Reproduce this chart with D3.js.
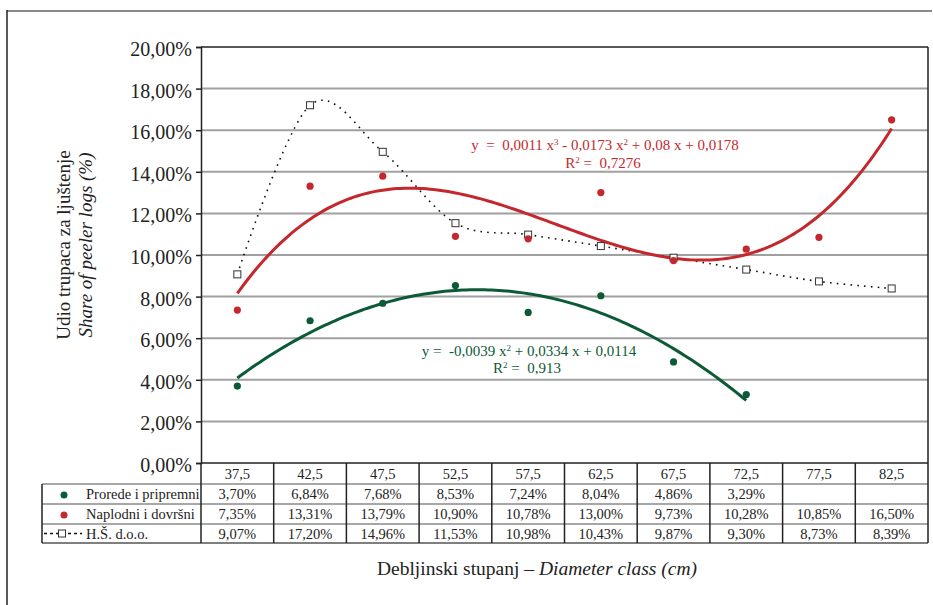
<!DOCTYPE html>
<html><head><meta charset="utf-8">
<script src="https://cdn.jsdelivr.net/npm/d3@7/dist/d3.min.js"></script>
<style>body{margin:0;background:#fff}svg{display:block}
text{font-family:"Liberation Serif","Tinos","Times New Roman","DejaVu Serif",serif;}</style>
</head><body>
<svg id="c" width="933" height="605"></svg>
<script>
const categories = ["37,5","42,5","47,5","52,5","57,5","62,5","67,5","72,5","77,5","82,5"];
const prorede  = [3.70, 6.84, 7.68, 8.53, 7.24, 8.04, 4.86, 3.29, null, null];
const naplodni = [7.35, 13.31, 13.79, 10.90, 10.78, 13.00, 9.73, 10.28, 10.85, 16.50];
const hs       = [9.07, 17.20, 14.96, 11.53, 10.98, 10.43, 9.87, 9.30, 8.73, 8.39];
const seriesNames = ["Prorede i pripremni", "Naplodni i dovršni", "H.Š. d.o.o."];
const yTicks = [0,2,4,6,8,10,12,14,16,18,20];
const yTickLabels = ["0,00%","2,00%","4,00%","6,00%","8,00%","10,00%","12,00%","14,00%","16,00%","18,00%","20,00%"];

const svg = d3.select("#c");
const serif = "Liberation Serif, Tinos, Times New Roman, DejaVu Serif, serif";
const GREEN = "#0d5a36", RED = "#c4282c";

const L = 201, R = 928, T = 47, B = 463;
const x = d3.scaleBand().domain(categories).range([L, R]).padding(0);
const bw = x.bandwidth();
const cx = c => x(c) + bw/2;
const y = d3.scaleLinear().domain([0, 20]).range([B, T]);
const xi = d3.scaleLinear().domain([1, categories.length]).range([cx(categories[0]), cx(categories[categories.length-1])]);

// outer frame
svg.append("line").attr("x1",7).attr("x2",932).attr("y1",11).attr("y2",11).attr("stroke","#8a8a8a").attr("stroke-width",2);
svg.append("line").attr("x1",7).attr("x2",7).attr("y1",10).attr("y2",605).attr("stroke","#222").attr("stroke-width",1.5);

// grid
svg.append("g").selectAll("line").data(yTicks.filter(t => t>0 && t<20)).join("line")
  .attr("x1",L).attr("x2",R).attr("y1",d=>y(d)).attr("y2",d=>y(d))
  .attr("stroke","#a0a0a0").attr("stroke-width",2);
svg.append("line").attr("x1",L).attr("x2",R).attr("y1",y(20)).attr("y2",y(20)).attr("stroke","#222").attr("stroke-width",1.5);
svg.append("line").attr("x1",R).attr("x2",R).attr("y1",T).attr("y2",B).attr("stroke","#222").attr("stroke-width",1.5);

// y axis
const yAxis = svg.append("g").attr("transform",`translate(${L},0)`)
  .call(d3.axisLeft(y).tickValues(yTicks).tickSize(5).tickPadding(4).tickFormat((d,i)=>yTickLabels[i]));
yAxis.attr("font-family", null);
yAxis.select(".domain").attr("stroke","#222").attr("stroke-width",1.5);
yAxis.selectAll(".tick line").attr("stroke","#222").attr("stroke-width",1.5);
yAxis.selectAll(".tick text").attr("font-family",serif).attr("font-size",20).attr("fill","#222").attr("dy","0.42em");

// y title
const yt = svg.append("text").attr("transform","translate(70,245) rotate(-90)")
  .attr("text-anchor","middle").attr("font-family",serif).attr("font-size",19).attr("fill","#222");
yt.append("tspan").attr("x",0).attr("y",0).text("Udio trupaca za ljuštenje");
yt.append("tspan").attr("x",0).attr("y",22).attr("font-style","italic").text("Share of  peeler logs (%)");

// x title
const xt = svg.append("text").attr("x",537).attr("y",575).attr("text-anchor","middle")
  .attr("font-family",serif).attr("font-size",19.5).attr("fill","#222");
xt.append("tspan").text("Debljinski stupanj – ");
xt.append("tspan").attr("font-style","italic").text("Diameter class (cm)");

// table
const rowY = [463, 484, 504, 524, 543];
const TL = 42;
const tab = svg.append("g");
tab.append("line").attr("x1",L).attr("x2",R).attr("y1",B).attr("y2",B).attr("stroke","#222").attr("stroke-width",1.5);
[1,2,3,4].forEach(i=>{
  tab.append("line").attr("x1",TL).attr("x2",R).attr("y1",rowY[i]).attr("y2",rowY[i]).attr("stroke", i===4? "#555":"#8a8a8a").attr("stroke-width",1.5);
});
tab.append("line").attr("x1",TL).attr("x2",TL).attr("y1",rowY[1]).attr("y2",rowY[4]).attr("stroke","#222").attr("stroke-width",1.5);
categories.forEach((c,i)=>{
  tab.append("line").attr("x1",x(c)).attr("x2",x(c)).attr("y1",B).attr("y2",rowY[4]).attr("stroke","#222").attr("stroke-width",1.5);
});
tab.append("line").attr("x1",R).attr("x2",R).attr("y1",B).attr("y2",rowY[4]).attr("stroke","#222").attr("stroke-width",1.5);

const fmt = v => v==null ? "" : v.toFixed(2).replace(".", ",") + "%";
const cellText = (txt, xx, r) => tab.append("text").attr("x",xx).attr("y",(rowY[r]+rowY[r+1])/2).attr("dy","0.35em")
  .attr("text-anchor","middle").attr("font-family",serif).attr("font-size",14.5).attr("fill","#222").text(txt);
categories.forEach((c,i)=>{
  cellText(c, cx(c), 0);
  cellText(fmt(prorede[i]), cx(c), 1);
  cellText(fmt(naplodni[i]), cx(c), 2);
  cellText(fmt(hs[i]), cx(c), 3);
});
// legend col
seriesNames.forEach((n,i)=>{
  tab.append("text").attr("x",86).attr("y",(rowY[i+1]+rowY[i+2])/2).attr("dy","0.35em")
    .attr("font-family",serif).attr("font-size",14.5).attr("fill","#222").text(n);
});
tab.append("circle").attr("cx",64).attr("cy",(rowY[1]+rowY[2])/2+1).attr("r",3.5).attr("fill",GREEN);
tab.append("circle").attr("cx",64).attr("cy",(rowY[2]+rowY[3])/2+1).attr("r",3.5).attr("fill",RED);
const ly = (rowY[3]+rowY[4])/2;
tab.append("line").attr("x1",44).attr("x2",82).attr("y1",ly).attr("y2",ly).attr("stroke","#111").attr("stroke-width",1.5).attr("stroke-dasharray","3,3");
tab.append("rect").attr("x",58.5).attr("y",ly-3.5).attr("width",7).attr("height",7).attr("fill","#fff").attr("stroke","#333").attr("stroke-width",1);

// least squares polynomial fit
function polyfit(xs, ys, deg){
  const n = deg+1;
  const A = Array.from({length:n},()=>new Array(n+1).fill(0));
  xs.forEach((xv,k)=>{
    for(let i=0;i<n;i++){
      for(let j=0;j<n;j++) A[i][j]+=Math.pow(xv,i+j);
      A[i][n]+=ys[k]*Math.pow(xv,i);
    }
  });
  for(let i=0;i<n;i++){
    let p=i; for(let r=i+1;r<n;r++) if(Math.abs(A[r][i])>Math.abs(A[p][i])) p=r;
    [A[i],A[p]]=[A[p],A[i]];
    for(let r=0;r<n;r++){ if(r===i) continue; const f=A[r][i]/A[i][i]; for(let c=i;c<=n;c++) A[r][c]-=f*A[i][c]; }
  }
  return A.map((row,i)=>row[n]/row[i]);
}
const evalPoly = (co, xv) => co.reduce((s,c,i)=>s+c*Math.pow(xv,i),0);

function trend(vals, deg, color){
  const xs=[], ys=[];
  vals.forEach((v,i)=>{ if(v!=null){ xs.push(i+1); ys.push(v);} });
  const co = polyfit(xs, ys, deg);
  const pts = d3.range(xs[0], xs[xs.length-1]+0.0001, 0.05).map(t=>[xi(t), y(evalPoly(co,t))]);
  svg.append("path").attr("d", d3.line()(pts)).attr("fill","none").attr("stroke",color).attr("stroke-width",3);
}

// HŠ smoothed dotted line
const hsPts = hs.map((v,i)=>[cx(categories[i]), y(v)]);
svg.append("path").attr("d", d3.line().curve(d3.curveCatmullRom.alpha(0))(hsPts))
  .attr("fill","none").attr("stroke","#111").attr("stroke-width",1.6).attr("stroke-dasharray","1.6,5.2");

trend(naplodni, 3, RED);
trend(prorede, 2, GREEN);

// markers
svg.append("g").selectAll("rect").data(hs).join("rect")
  .attr("x",(d,i)=>cx(categories[i])-3.5).attr("y",d=>y(d)-3.5).attr("width",7).attr("height",7)
  .attr("fill","#fff").attr("stroke","#333").attr("stroke-width",1);
svg.append("g").selectAll("circle").data(naplodni).join("circle")
  .attr("cx",(d,i)=>cx(categories[i])).attr("cy",d=>y(d)).attr("r",3.6).attr("fill",RED);
svg.append("g").selectAll("circle").data(prorede.filter(v=>v!=null)).join("circle")
  .attr("cx",(d,i)=>cx(categories[i])).attr("cy",d=>y(d)).attr("r",3.6).attr("fill",GREEN);

// equations
function eq(parts, xx, yy, color){
  const t = svg.append("text").attr("x",xx).attr("y",yy).attr("text-anchor","middle")
    .attr("font-family",serif).attr("font-size",15).attr("fill",color).style("white-space","pre");
  let raised = false;
  parts.forEach(p=>{
    if(typeof p === "string"){
      const s = t.append("tspan").text(p);
      if(raised){ s.attr("dy",5); raised=false; }
    } else {
      t.append("tspan").attr("font-size",9).attr("dy",-5).text(p.sup);
      raised = true;
    }
  });
}
eq(["y  =  0,0011 x",{sup:"3"}," - 0,0173 x",{sup:"2"}," + 0,08 x + 0,0178"], 605, 150, RED);
eq(["R",{sup:"2"}," =  0,7276"], 603, 168, RED);
eq(["y =  -0,0039 x",{sup:"2"}," + 0,0334 x + 0,0114"], 529, 356, GREEN);
eq(["R",{sup:"2"}," =  0,913"], 527, 373, GREEN);
</script>
</body></html>
